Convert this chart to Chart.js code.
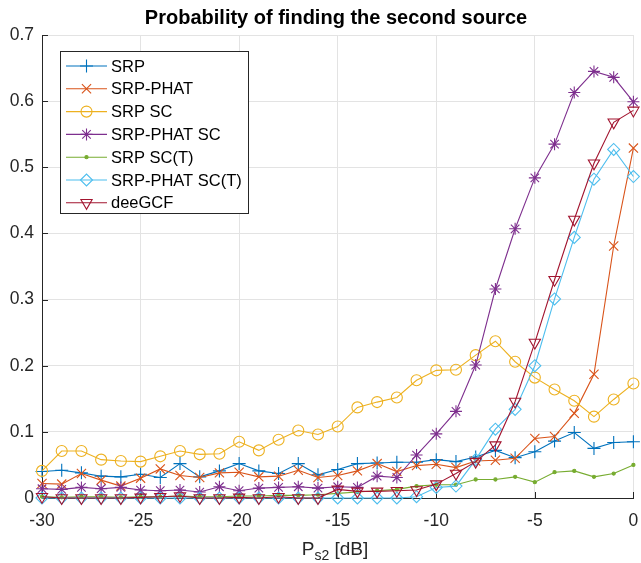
<!DOCTYPE html>
<html>
<head>
<meta charset="utf-8">
<script src="https://cdn.jsdelivr.net/npm/chart.js@4/dist/chart.umd.min.js"></script>
<style>
  html, body { margin: 0; padding: 0; background: #fff; overflow: hidden; }
  canvas { display: block; }
</style>
</head>
<body>
<canvas id="c" width="641" height="563"></canvas>
<script>
// Power of the second source, dB
const powerDb = [-30,-29,-28,-27,-26,-25,-24,-23,-22,-21,-20,-19,-18,-17,-16,-15,-14,-13,-12,-11,-10,-9,-8,-7,-6,-5,-4,-3,-2,-1,0];

// Probability of finding the second source, per method
const srp          = [0.040,0.042,0.038,0.033,0.032,0.036,0.031,0.052,0.032,0.041,0.052,0.041,0.037,0.052,0.035,0.043,0.052,0.053,0.054,0.054,0.058,0.055,0.062,0.072,0.061,0.070,0.086,0.099,0.075,0.084,0.085];
const srpPhat      = [0.022,0.021,0.037,0.027,0.018,0.030,0.044,0.034,0.031,0.038,0.039,0.032,0.033,0.042,0.031,0.034,0.041,0.052,0.040,0.049,0.051,0.046,0.056,0.057,0.060,0.090,0.093,0.128,0.187,0.381,0.529];
const srpSc        = [0.041,0.071,0.071,0.058,0.056,0.055,0.063,0.071,0.066,0.067,0.085,0.072,0.088,0.102,0.096,0.108,0.137,0.145,0.152,0.178,0.193,0.194,0.216,0.237,0.206,0.182,0.164,0.147,0.123,0.149,0.173];
const srpPhatSc    = [0.014,0.013,0.016,0.014,0.016,0.012,0.011,0.012,0.009,0.017,0.011,0.015,0.016,0.017,0.015,0.017,0.016,0.033,0.031,0.065,0.097,0.131,0.201,0.316,0.407,0.484,0.535,0.613,0.645,0.636,0.599];
const srpScT       = [0.002,0.001,0.002,0.002,0.001,0.002,0.002,0.003,0.002,0.002,0.003,0.003,0.004,0.004,0.005,0.007,0.009,0.011,0.013,0.018,0.020,0.020,0.028,0.028,0.032,0.024,0.039,0.041,0.032,0.037,0.050];
const srpPhatScT   = [0,0,0,0,0,0,0,0,0,0,0,0,0,0,0,0,0,0,0,0.002,0.016,0.018,0.058,0.104,0.134,0.200,0.301,0.394,0.482,0.527,0.486];
const deeGcf       = [0.002,0,0,0,0,0.001,0.002,0.003,0,0,0.001,0,0.002,0,0,0.013,0.010,0.010,0.011,0.012,0.021,0.037,0.055,0.080,0.146,0.235,0.330,0.421,0.506,0.568,0.586];

const seriesNames = ['SRP','SRP-PHAT','SRP SC','SRP-PHAT SC','SRP SC(T)','SRP-PHAT SC(T)','deeGCF'];
const seriesValues = [srp, srpPhat, srpSc, srpPhatSc, srpScT, srpPhatScT, deeGcf];

const xTicks = [-30,-25,-20,-15,-10,-5,0];
const yTicks = [0,0.1,0.2,0.3,0.4,0.5,0.6,0.7];

const titleText = 'Probability of finding the second source';

// Line colours and marker styles for each method
const colors = ['#0072BD','#D95319','#EDB120','#7E2F8E','#77AC30','#4DBEEE','#A2142F'];
const markers = [
  { pointStyle: 'cross',    radius: 6.5, rotation: 0 },
  { pointStyle: 'crossRot', radius: 6.5, rotation: 0 },
  { pointStyle: 'circle',   radius: 5.5, rotation: 0 },
  { pointStyle: 'star',     radius: 6,   rotation: 0 },
  { pointStyle: 'circle',   radius: 1.6, rotation: 0, filled: true },
  { pointStyle: 'rectRot',  radius: 6,   rotation: 0 },
  { pointStyle: 'triangle', radius: 6.5, rotation: 180 }
];

const FONT = "'Liberation Sans', Arial, Helvetica, sans-serif";
const TEXT = '#262626';

const datasets = seriesNames.map((name, i) => ({
  label: name,
  data: powerDb.map((x, k) => ({ x: x, y: seriesValues[i][k] })),
  borderColor: colors[i],
  backgroundColor: colors[i],
  borderWidth: 1.1,
  tension: 0,
  fill: false,
  clip: false,
  order: seriesNames.length - i,
  pointStyle: markers[i].pointStyle,
  pointRadius: markers[i].radius,
  pointRotation: markers[i].rotation,
  pointBorderWidth: 1.1,
  pointBorderColor: colors[i],
  pointBackgroundColor: markers[i].filled ? colors[i] : 'rgba(0,0,0,0)',
  pointHoverRadius: markers[i].radius
}));

// Inward tick marks on the left and bottom axes
const tickMarks = {
  id: 'tickMarks',
  beforeDatasetsDraw(chart) {
    const { ctx, chartArea: a, scales } = chart;
    ctx.save();
    ctx.strokeStyle = TEXT;
    ctx.lineWidth = 1;
    ctx.beginPath();
    xTicks.forEach(v => {
      const px = Math.round(scales.x.getPixelForValue(v)) + 0.5;
      ctx.moveTo(px, a.bottom); ctx.lineTo(px, a.bottom - 6);
    });
    yTicks.forEach(v => {
      const py = Math.round(scales.y.getPixelForValue(v)) + 0.5;
      ctx.moveTo(a.left, py); ctx.lineTo(a.left + 6, py);
    });
    ctx.stroke();
    ctx.restore();
  }
};

// Title, x-axis label with subscript, and the boxed legend
const annotations = {
  id: 'annotations',
  afterDraw(chart) {
    const { ctx } = chart;
    ctx.save();
    ctx.fillStyle = '#000';
    ctx.font = 'bold 20px ' + FONT;
    ctx.textAlign = 'center';
    ctx.textBaseline = 'alphabetic';
    ctx.fillText(titleText, 336, 24);

    // P_s2 [dB]
    ctx.fillStyle = TEXT;
    const big = '19px ' + FONT, small = '14px ' + FONT;
    ctx.font = big; const wP = ctx.measureText('P').width;
    const wTail = ctx.measureText(' [dB]').width;
    ctx.font = small; const wSub = ctx.measureText('s2').width;
    let x0 = 335 - (wP + wSub + wTail) / 2;
    ctx.textAlign = 'left';
    ctx.font = big; ctx.fillText('P', x0, 555);
    ctx.font = small; ctx.fillText('s2', x0 + wP, 560);
    ctx.font = big; ctx.fillText(' [dB]', x0 + wP + wSub, 555);

    // legend
    const bx = 60.5, by = 51.5, bw = 188, bh = 162;
    ctx.fillStyle = '#fff';
    ctx.fillRect(bx, by, bw, bh);
    ctx.strokeStyle = TEXT;
    ctx.lineWidth = 1;
    ctx.strokeRect(bx, by, bw, bh);
    seriesNames.forEach((name, i) => {
      const y = 66 + i * 22.8;
      ctx.strokeStyle = colors[i];
      ctx.lineWidth = 1.1;
      ctx.beginPath(); ctx.moveTo(66, y); ctx.lineTo(107, y); ctx.stroke();
      ctx.fillStyle = markers[i].filled ? colors[i] : 'rgba(0,0,0,0)';
      Chart.helpers.drawPoint(ctx, {
        pointStyle: markers[i].pointStyle,
        radius: markers[i].radius,
        rotation: markers[i].rotation,
        borderWidth: 1.1
      }, 86.5, y);
      ctx.fillStyle = '#000';
      ctx.font = '16.5px ' + FONT;
      ctx.textAlign = 'left';
      ctx.textBaseline = 'middle';
      ctx.fillText(name, 111, y + 1);
    });
    ctx.restore();
  }
};

new Chart(document.getElementById('c'), {
  type: 'line',
  data: { datasets: datasets },
  plugins: [tickMarks, annotations],
  options: {
    responsive: false,
    animation: false,
    events: [],
    layout: { padding: { top: 35, right: 2, left: 0, bottom: 0 } },
    plugins: { legend: { display: false }, title: { display: false }, tooltip: { enabled: false } },
    scales: {
      x: {
        type: 'linear', min: -30, max: 0,
        afterBuildTicks: s => { s.ticks = xTicks.map(v => ({ value: v })); },
        afterFit: s => { s.height = 65; s.paddingLeft = 0; s.paddingRight = 0; },
        grid: { color: '#e3e3e3', lineWidth: 1, drawTicks: false },
        border: { display: true, color: TEXT, width: 1 },
        ticks: { color: TEXT, font: { family: FONT, size: 17.5 }, padding: 13, maxRotation: 0, autoSkip: false,
                 callback: v => String(v) }
      },
      y: {
        type: 'linear', min: 0, max: 0.7,
        afterBuildTicks: s => { s.ticks = yTicks.map(v => ({ value: v })); },
        afterFit: s => { s.width = 42; s.paddingTop = 0; s.paddingBottom = 0; },
        grid: { color: '#e3e3e3', lineWidth: 1, drawTicks: false },
        border: { display: true, color: TEXT, width: 1 },
        ticks: { color: TEXT, font: { family: FONT, size: 17.5 }, padding: 8, autoSkip: false,
                 callback: v => v === 0 ? '0' : v.toFixed(1) }
      }
    }
  }
});
</script>
</body>
</html>
